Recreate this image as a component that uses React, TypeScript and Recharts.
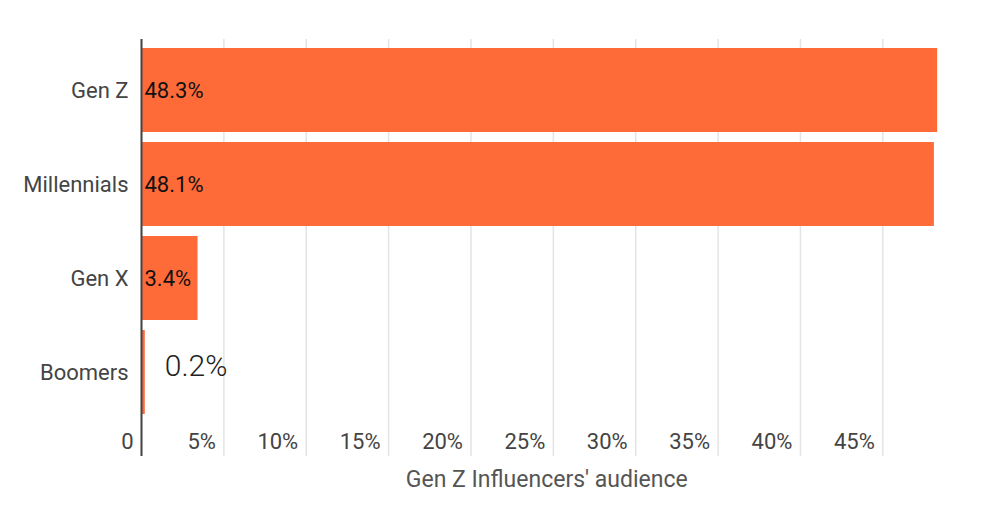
import React from "react";
import {
  BarChart,
  Bar,
  XAxis,
  YAxis,
  CartesianGrid,
  LabelList,
} from "recharts";

const generations = ["Gen Z", "Millennials", "Gen X", "Boomers"];
const audienceShare = [48.3, 48.1, 3.4, 0.2];
const xTicks = [0, 5, 10, 15, 20, 25, 30, 35, 40, 45];

const data = generations.map((name, i) => ({ name, share: audienceShare[i] }));

const FONT = "Roboto, 'Noto Sans', sans-serif";

function XTick(props: any) {
  const { x, y, payload } = props;
  const v = payload.value;
  return (
    <text
      x={x - 8}
      y={y - 7}
      textAnchor="end"
      fontSize={22}
      fontFamily={FONT}
      fill="#444"
    >
      {v === 0 ? "0" : `${v}%`}
    </text>
  );
}

function ShareLabel(props: any) {
  const { x, y, width, height, value } = props;
  const cy = y + height / 2;
  if (value < 1) {
    // too thin for the text, put it to the right
    return (
      <text
        x={x + width + 20}
        y={cy + 4}
        fontSize={30}
        fontWeight={300}
        fontFamily={FONT}
        fill="#222"
      >
        {`${value}%`}
      </text>
    );
  }
  return (
    <text
      x={x + 3}
      y={cy}
      dy="0.355em"
      fontSize={22}
      fontFamily={FONT}
      fill="#111"
    >
      {`${value}%`}
    </text>
  );
}

export default function App() {
  return (
    <div style={{ position: "absolute", left: 0, top: 0, background: "#fff" }}>
      <BarChart
        width={1000}
        height={523}
        data={data}
        layout="vertical"
        margin={{ top: 39, right: 48, bottom: 0, left: 0 }}
      >
        <CartesianGrid
          horizontal={false}
          verticalValues={xTicks}
          stroke="#e4e4e4"
          strokeWidth={1.5}
        />
        <XAxis
          type="number"
          domain={[0, 49.2]}
          ticks={xTicks}
          allowDataOverflow
          axisLine={false}
          tickLine={false}
          tickSize={0}
          tickMargin={0}
          height={67}
          tick={<XTick />}
          label={{
            value: "Gen Z Influencers' audience",
            position: "insideBottom",
            offset: 36,
            fontSize: 23,
            fontFamily: FONT,
            fill: "#555",
          }}
        />
        <YAxis
          type="category"
          dataKey="name"
          width={141.5}
          padding={{ top: 4, bottom: 37 }}
          axisLine={{ stroke: "#444", strokeWidth: 2 }}
          tickLine={false}
          tickSize={0}
          tickMargin={13}
          tick={{ fontSize: 22, fontFamily: FONT, fill: "#444" }}
        />
        <Bar
          dataKey="share"
          fill="#ff6a39"
          barSize={84}
          isAnimationActive={false}
        >
          <LabelList dataKey="share" content={<ShareLabel />} />
        </Bar>
      </BarChart>
    </div>
  );
}
